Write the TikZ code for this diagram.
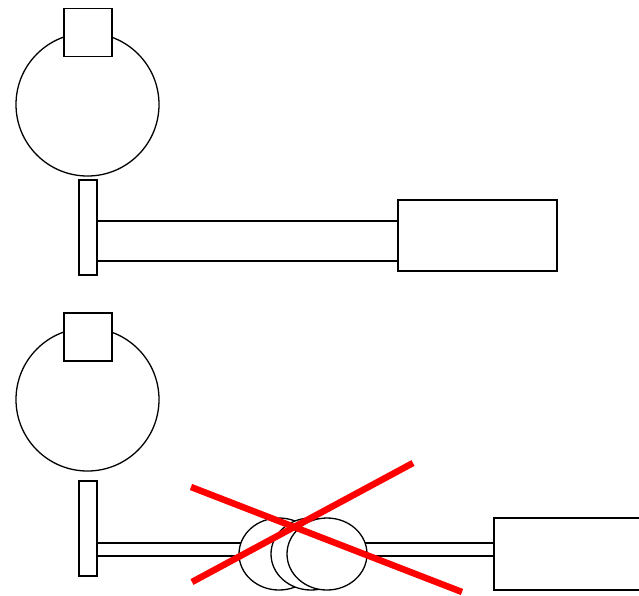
\documentclass[tikz,border=0pt]{standalone}
\usepackage{tikz}
\usetikzlibrary{shapes.geometric}

\begin{document}
\begin{tikzpicture}[x=1pt, y=-1pt, line width=1.3pt,
    wheel/.style = {draw, circle, fill=white, inner sep=0, minimum size=143},
    hub/.style = {draw, rectangle, fill=white, inner sep=0, minimum width=48, minimum height=48},
    plate/.style = {draw, rectangle, fill=white, inner sep=0, minimum width=18, minimum height=95},
    box/.style = {draw, rectangle, fill=white, inner sep=0, minimum width=159, minimum height=71},
    disc/.style = {draw, ellipse, fill=white, inner sep=0, minimum width=80, minimum height=72},
    cross/.style = {draw=red, line width=6.5pt}]
    \useasboundingbox (0,0) rectangle (639,595);
        % top: direct drive
        \node[wheel] (w1) at (87.5,104.5) {};
        \node[hub] (h1) at (88,32.5) {};
        \node[plate] (p1) at (88,227.5) {};
        \node[box] (b1) at (477.5,235.5) {};
        \coordinate (s1) at (0,221);
        \coordinate (s2) at (0,261);
        \draw (p1.east |- s1) -- (b1.west |- s1);
        \draw (p1.east |- s2) -- (b1.west |- s2);
        % bottom: with discs
        \node[wheel] (w2) at (87.5,399.5) {};
        \node[hub] (h2) at (88,337) {};
        \node[plate] (p2) at (88,528.5) {};
        \node[box, minimum height=72] (b2) at (573.5,554) {};
        \coordinate (s3) at (0,543);
        \coordinate (s4) at (0,556);
        \draw (p2.east |- s3) -- (b2.west |- s3);
        \draw (p2.east |- s4) -- (b2.west |- s4);
        \node[disc] (d1) at (279,554) {};
        \node[disc] (d2) at (311,554) {};
        \node[disc] (d3) at (327,554) {};
        \coordinate (c1) at (191,487);
        \coordinate (c2) at (462,592);
        \coordinate (c3) at (192,582);
        \coordinate (c4) at (413,463);
        \draw[cross] (c1) -- (c2);
        \draw[cross] (c3) -- (c4);
\end{tikzpicture}
\end{document}
